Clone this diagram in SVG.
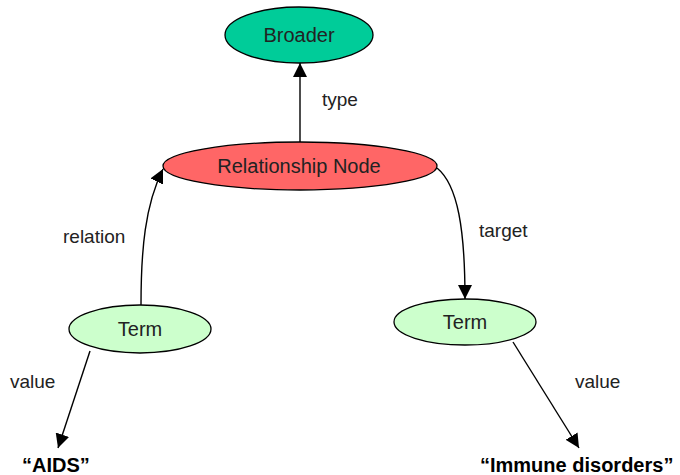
<svg xmlns="http://www.w3.org/2000/svg" width="680" height="475" viewBox="0 0 680 475">
<style>
.n{stroke:#000;stroke-width:1.3}
.t{font-family:"Liberation Sans",Arial,sans-serif;font-size:20px;fill:#222}
.l{font-family:"Liberation Sans",Arial,sans-serif;font-size:19px;fill:#222}
.b{font-family:"Liberation Sans",Arial,sans-serif;font-size:20px;font-weight:bold;fill:#000}
.c{fill:none;stroke:#000;stroke-width:1.4}
</style>
<defs>
<marker id="ah" viewBox="0 0 10 10" refX="10" refY="5" markerWidth="14" markerHeight="14" markerUnits="userSpaceOnUse" orient="auto">
<path d="M0,0 L10,5 L0,10 z" fill="#000"/>
</marker>
</defs>
<g id="connectors">
<line class="c" x1="300" y1="142" x2="300" y2="63" marker-end="url(#ah)"/>
<path class="c" d="M141,305 C141,250 145,205 163,169" marker-end="url(#ah)"/>
<path class="c" d="M437,168 C458,185 465,230 465,299" marker-end="url(#ah)"/>
<line class="c" x1="90" y1="351" x2="58" y2="448" marker-end="url(#ah)"/>
<line class="c" x1="513" y1="342" x2="579" y2="448" marker-end="url(#ah)"/>
</g>
<g id="broader">
<ellipse class="n" cx="299" cy="35" rx="74" ry="28" fill="#00CC99"/>
<text class="t" x="299" y="42" text-anchor="middle">Broader</text>
</g>
<g id="relnode">
<ellipse class="n" cx="300" cy="166" rx="137" ry="24" fill="#FF6666"/>
<text class="t" x="299" y="173" text-anchor="middle">Relationship Node</text>
</g>
<g id="term1">
<ellipse class="n" cx="140" cy="329" rx="71" ry="24" fill="#CCFFCC"/>
<text class="t" x="140" y="336" text-anchor="middle">Term</text>
</g>
<g id="term2">
<ellipse class="n" cx="465" cy="322" rx="71" ry="23" fill="#CCFFCC"/>
<text class="t" x="465" y="329" text-anchor="middle">Term</text>
</g>
<g id="labels">
<text class="l" x="322" y="106">type</text>
<text class="l" x="63" y="243">relation</text>
<text class="l" x="479" y="237">target</text>
<text class="l" x="10" y="388">value</text>
<text class="l" x="575" y="388">value</text>
<text class="b" x="22" y="472">“AIDS”</text>
<text class="b" x="480" y="472">“Immune disorders”</text>
</g>
</svg>
